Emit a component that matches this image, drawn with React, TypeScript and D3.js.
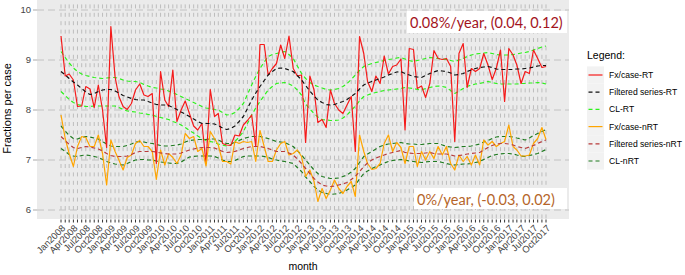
import React from "react";
import * as d3 from "d3";

const months: Date[] = d3.timeMonth.range(new Date(2008, 0, 1), new Date(2017, 10, 1));

const tickLabels = [
  "Jan2008","Apr2008","Jul2008","Oct2008","Jan2009","Apr2009","Jul2009","Oct2009",
  "Jan2010","Apr2010","Jul2010","Oct2010","Jan2011","Apr2011","Jul2011","Oct2011",
  "Jan2012","Apr2012","Jul2012","Oct2012","Jan2013","Apr2013","Jul2013","Oct2013",
  "Jan2014","Apr2014","Jul2014","Oct2014","Jan2015","Apr2015","Jul2015","Oct2015",
  "Jan2016","Apr2016","Jul2016","Oct2016","Jan2017","Apr2017","Jul2017","Oct2017",
];
const yTicks = [6, 7, 8, 9, 10];

const fxRT = [
  9.48,8.68,8.72,8.60,8.07,8.08,8.47,8.42,8.05,8.50,8.00,7.25,9.67,8.66,8.27,8.07,8.01,8.13,8.40,8.52,
  8.30,8.27,8.33,6.93,8.77,8.20,8.07,8.80,7.77,8.00,8.18,7.93,7.68,7.60,7.73,6.93,8.41,7.87,7.93,7.33,
  7.30,7.29,7.50,7.48,7.70,7.79,7.90,7.27,9.31,9.31,8.70,8.83,8.93,9.30,9.03,9.48,8.83,8.68,8.70,7.35,
  8.68,8.40,7.75,7.81,7.65,8.40,8.13,8.00,7.93,8.10,8.27,7.17,9.47,9.13,8.57,8.37,8.68,8.53,9.08,8.72,
  8.87,8.90,9.02,7.60,9.23,9.21,8.43,8.48,8.25,8.53,9.19,9.03,9.01,9.03,8.87,7.37,9.13,9.33,8.45,8.83,
  8.77,8.83,9.13,8.90,8.61,8.83,9.20,8.17,9.23,9.10,8.90,8.53,8.77,8.73,9.20,9.03,8.85,8.87,
];
const filtRT = [
  8.77,8.70,8.63,8.56,8.50,8.43,8.36,8.31,8.33,8.37,8.40,8.41,8.41,8.38,8.34,8.29,8.26,8.23,8.21,8.20,
  8.20,8.17,8.14,8.11,8.10,8.10,8.09,8.05,8.01,7.96,7.92,7.87,7.82,7.77,7.73,7.73,7.73,7.72,7.69,7.64,
  7.61,7.63,7.68,7.77,7.87,8.03,8.20,8.34,8.47,8.59,8.70,8.77,8.83,8.84,8.83,8.80,8.77,8.69,8.60,8.49,
  8.38,8.28,8.20,8.15,8.11,8.10,8.11,8.14,8.17,8.21,8.27,8.33,8.42,8.50,8.54,8.57,8.60,8.63,8.66,8.70,
  8.73,8.76,8.77,8.73,8.70,8.67,8.66,8.65,8.69,8.73,8.76,8.79,8.78,8.77,8.74,8.70,8.71,8.73,8.77,8.80,
  8.83,8.85,8.86,8.87,8.85,8.82,8.81,8.81,8.81,8.81,8.82,8.82,8.83,8.84,8.86,8.88,8.89,8.89,
];
const clRTUpper = [
  9.17,9.05,8.94,8.84,8.77,8.72,8.69,8.67,8.65,8.64,8.63,8.64,8.65,8.65,8.63,8.60,8.58,8.57,8.57,8.55,
  8.51,8.48,8.45,8.44,8.42,8.41,8.38,8.35,8.31,8.27,8.23,8.19,8.15,8.11,8.07,8.04,8.03,8.01,8.00,7.95,
  7.90,7.91,7.95,8.03,8.13,8.31,8.50,8.67,8.83,8.96,9.07,9.11,9.13,9.15,9.17,9.11,9.03,8.88,8.73,8.63,
  8.55,8.50,8.47,8.44,8.41,8.40,8.41,8.43,8.47,8.53,8.61,8.70,8.79,8.87,8.90,8.93,8.95,8.97,8.99,9.01,
  9.02,9.04,9.05,9.02,8.99,8.97,8.99,9.01,9.03,9.05,9.04,9.03,9.02,9.01,8.99,8.97,9.00,9.03,9.07,9.10,
  9.12,9.13,9.14,9.15,9.13,9.11,9.10,9.10,9.10,9.11,9.12,9.14,9.15,9.17,9.20,9.23,9.26,9.28,
];
const clRTLower = [
  8.37,8.29,8.21,8.15,8.11,8.09,8.07,8.07,8.08,8.08,8.08,8.08,8.08,8.08,8.05,8.01,7.98,7.97,7.96,7.94,
  7.93,7.91,7.90,7.87,7.85,7.83,7.81,7.77,7.74,7.70,7.65,7.59,7.54,7.48,7.43,7.39,7.37,7.35,7.32,7.30,
  7.28,7.31,7.37,7.46,7.57,7.73,7.90,8.04,8.17,8.29,8.40,8.47,8.53,8.54,8.55,8.52,8.48,8.40,8.30,8.12,
  8.02,7.93,7.86,7.81,7.80,7.79,7.79,7.80,7.84,7.90,7.99,8.08,8.18,8.27,8.30,8.33,8.35,8.37,8.39,8.40,
  8.41,8.42,8.43,8.45,8.44,8.43,8.41,8.40,8.43,8.45,8.47,8.48,8.47,8.45,8.39,8.33,8.38,8.43,8.47,8.50,
  8.52,8.53,8.55,8.57,8.55,8.53,8.52,8.52,8.52,8.52,8.52,8.53,8.53,8.54,8.54,8.55,8.54,8.52,
];
const fxNRT = [
  7.90,7.43,7.13,6.87,7.27,7.47,7.45,7.27,7.27,7.50,7.13,6.50,7.40,7.17,7.00,6.80,7.05,7.10,7.33,7.39,
  7.27,7.27,7.17,6.61,7.20,6.90,7.13,7.05,6.93,7.10,7.53,7.43,7.47,7.17,7.23,6.88,7.57,7.43,7.30,6.97,
  6.97,6.92,7.37,7.33,7.37,7.35,7.37,6.97,7.59,7.27,6.97,6.97,7.20,7.33,7.37,7.10,7.13,7.20,7.07,6.67,
  6.80,6.57,6.17,6.43,6.23,6.40,6.60,6.43,6.33,6.47,6.57,6.27,7.50,7.17,6.93,6.81,6.83,6.93,7.33,7.50,
  7.17,7.35,7.25,6.93,7.27,7.27,6.87,7.17,7.00,7.17,7.03,7.27,7.10,7.27,6.93,6.80,7.10,6.97,7.07,6.90,
  7.10,6.90,7.40,7.30,7.37,7.27,7.33,7.37,7.70,7.27,7.20,7.08,7.08,7.10,7.33,7.43,7.65,7.41,
];
const filtNRT = [
  7.47,7.39,7.31,7.25,7.23,7.25,7.27,7.26,7.24,7.22,7.18,7.13,7.09,7.07,7.07,7.07,7.08,7.11,7.15,7.17,
  7.17,7.17,7.17,7.16,7.14,7.13,7.12,7.12,7.12,7.14,7.17,7.20,7.22,7.24,7.25,7.25,7.25,7.24,7.21,7.17,
  7.15,7.16,7.17,7.20,7.23,7.25,7.27,7.27,7.27,7.25,7.23,7.20,7.17,7.17,7.17,7.14,7.10,7.02,6.93,6.83,
  6.73,6.63,6.56,6.50,6.48,6.47,6.48,6.50,6.52,6.55,6.61,6.67,6.77,6.87,6.94,7.00,7.04,7.07,7.10,7.13,
  7.15,7.17,7.19,7.15,7.14,7.13,7.13,7.13,7.14,7.15,7.13,7.12,7.12,7.12,7.10,7.08,7.09,7.10,7.12,7.13,
  7.14,7.15,7.20,7.25,7.29,7.32,7.33,7.33,7.32,7.30,7.27,7.25,7.23,7.26,7.29,7.33,7.37,7.40,
];
const clNRTUpper = [
  7.68,7.58,7.49,7.43,7.42,7.45,7.47,7.46,7.44,7.42,7.37,7.32,7.28,7.27,7.27,7.27,7.29,7.32,7.36,7.37,
  7.36,7.34,7.33,7.31,7.29,7.28,7.28,7.29,7.30,7.32,7.36,7.39,7.40,7.41,7.41,7.41,7.42,7.42,7.40,7.36,
  7.33,7.33,7.35,7.39,7.43,7.45,7.47,7.47,7.47,7.45,7.43,7.40,7.37,7.36,7.35,7.31,7.27,7.19,7.10,7.00,
  6.90,6.80,6.73,6.67,6.65,6.63,6.63,6.64,6.67,6.70,6.76,6.83,6.95,7.07,7.12,7.17,7.22,7.27,7.30,7.32,
  7.33,7.34,7.35,7.33,7.32,7.32,7.31,7.31,7.32,7.33,7.33,7.33,7.30,7.27,7.26,7.25,7.26,7.27,7.27,7.28,
  7.30,7.32,7.36,7.39,7.43,7.46,7.47,7.47,7.47,7.46,7.44,7.42,7.40,7.44,7.49,7.53,7.57,7.61,
];
const clNRTLower = [
  7.23,7.17,7.11,7.08,7.07,7.09,7.10,7.09,7.07,7.05,7.01,6.97,6.94,6.92,6.91,6.90,6.93,6.97,7.00,7.01,
  7.01,7.00,7.00,6.98,6.96,6.95,6.94,6.93,6.93,6.96,7.01,7.06,7.07,7.08,7.08,7.08,7.08,7.07,7.04,7.00,
  6.97,6.97,6.99,7.03,7.07,7.08,7.08,7.08,7.08,7.07,7.05,7.02,7.00,6.98,6.97,6.95,6.93,6.85,6.77,6.66,
  6.57,6.47,6.40,6.35,6.33,6.31,6.32,6.33,6.36,6.40,6.45,6.50,6.62,6.73,6.78,6.83,6.87,6.90,6.94,6.97,
  6.99,7.00,7.01,7.00,6.98,6.97,6.96,6.95,6.96,6.97,6.97,6.97,6.95,6.93,6.91,6.90,6.91,6.92,6.92,6.93,
  6.95,6.97,7.01,7.05,7.09,7.11,7.12,7.13,7.13,7.12,7.10,7.08,7.07,7.09,7.11,7.13,7.17,7.21,
];

const legendItems = [
  "Fx/case-RT", "Filtered series-RT", "CL-RT",
  "Fx/case-nRT", "Filtered series-nRT", "CL-nRT",
];
const annotRT = "0.08%/year, (0.04, 0.12)";
const annotNRT = "0%/year, (-0.03, 0.02)";

const FONT = "'Liberation Sans', Arial, sans-serif";
const ANNOT_FONT = "Lato, 'Open Sans', sans-serif";

const COLORS = {
  fxRT: "#f51a1a",
  filtRT: "#111111",
  clRT: "#2cf21a",
  fxNRT: "#ffa500",
  filtNRT: "#b83a3a",
  clNRT: "#1f7a1f",
};

export default function App() {
  const W = 685, H = 275;
  const panel = { left: 37, right: 569, top: 0, bottom: 219 };
  const x = d3.scaleTime().domain([months[0], months[months.length - 1]]).range([61, 546]);
  const y = d3.scaleLinear().domain([5.82, 10.2]).range([panel.bottom, panel.top]);

  const line = d3.line<number>().x((_, i) => x(months[i])).y((d) => y(d));

  const series: { data: number[]; color: string; dash?: string; w: number }[] = [
    { data: clRTUpper, color: COLORS.clRT, dash: "4,3", w: 1.2 },
    { data: clRTLower, color: COLORS.clRT, dash: "4,3", w: 1.2 },
    { data: clNRTUpper, color: COLORS.clNRT, dash: "4,3", w: 1.2 },
    { data: clNRTLower, color: COLORS.clNRT, dash: "4,3", w: 1.2 },
    { data: fxRT, color: COLORS.fxRT, w: 1.2 },
    { data: fxNRT, color: COLORS.fxNRT, w: 1.2 },
    { data: filtRT, color: COLORS.filtRT, dash: "4,3", w: 1.2 },
    { data: filtNRT, color: COLORS.filtNRT, dash: "4,3", w: 1.2 },
  ];

  const legendStyles = [
    { color: COLORS.fxRT },
    { color: COLORS.filtRT, dash: "4,3" },
    { color: COLORS.clRT, dash: "4,3" },
    { color: COLORS.fxNRT },
    { color: COLORS.filtNRT, dash: "4,3" },
    { color: COLORS.clNRT, dash: "4,3" },
  ];

  const quarterMonths = months.filter((_, i) => i % 3 === 0);

  return (
    <svg width={W} height={H} style={{ position: "absolute", left: 0, top: 0, background: "#fff" }}>
      <rect x={panel.left} y={panel.top} width={panel.right - panel.left} height={panel.bottom - panel.top} fill="#ebebeb" />
      {months.map((m, i) => (
        <line key={"vg" + i} x1={x(m)} x2={x(m)} y1={panel.top} y2={panel.bottom}
          stroke="#bdbdbd" strokeWidth={1} strokeDasharray="4,4.4" strokeDashoffset={4} />
      ))}
      {yTicks.map((t) => (
        <line key={"hg" + t} x1={panel.left} x2={panel.right} y1={y(t)} y2={y(t)}
          stroke="#c2c2c2" strokeWidth={1} strokeDasharray="7,4" />
      ))}
      {yTicks.map((t) => (
        <g key={"yt" + t}>
          <line x1={33} x2={panel.left} y1={y(t)} y2={y(t)} stroke="#aaaaaa" strokeWidth={1} />
          <text x={31} y={y(t)} dy="0.35em" textAnchor="end" fontFamily={FONT} fontSize={9.5} fill="#444">{t}</text>
        </g>
      ))}
      {months.map((m, i) => (
        <line key={"xt" + i} x1={x(m)} x2={x(m)} y1={panel.bottom + 0.5} y2={panel.bottom + 3.5} stroke="#333" strokeWidth={1} />
      ))}
      {quarterMonths.map((m, i) => (
        <text key={"xl" + i} transform={`translate(${x(m) + 2.5},${panel.bottom + 7.5}) rotate(-45)`}
          textAnchor="end" dy="0.35em" fontFamily={FONT} fontSize={9.4} fill="#444">{tickLabels[i]}</text>
      ))}
      {series.map((s, i) => (
        <path key={"s" + i} d={line(s.data) || ""} fill="none" stroke={s.color} strokeWidth={s.w}
          strokeDasharray={s.dash} strokeLinejoin="round" />
      ))}
      <rect x={407} y={11} width={160} height={22} fill="#fff" />
      <text x={410} y={28} fontFamily={ANNOT_FONT} fontSize={14.5} fill="#a3141d">{annotRT}</text>
      <rect x={414} y={188} width={153} height={21} fill="#fff" />
      <text x={417} y={205} fontFamily={ANNOT_FONT} fontSize={14.5} fill="#b5652a">{annotNRT}</text>
      <text transform="translate(10.5,108.5) rotate(-90)" textAnchor="middle" fontFamily={FONT} fontSize={11} fill="#000">Fractions per case</text>
      <text x={303} y={270} textAnchor="middle" fontFamily={FONT} fontSize={10.5} fill="#000">month</text>
      <text x={587} y={59} fontFamily={FONT} fontSize={10.5} fill="#000">Legend:</text>
      {legendItems.map((lab, i) => {
        const cy = 75 + i * 17.2;
        const st = legendStyles[i];
        return (
          <g key={"lg" + i}>
            <rect x={587} y={cy - 8.6} width={17} height={17.2} fill="#f2f2f2" />
            <line x1={588.5} x2={602.5} y1={cy} y2={cy} stroke={st.color} strokeWidth={1.2} strokeDasharray={st.dash} />
            <text x={609} y={cy} dy="0.35em" fontFamily={FONT} fontSize={8.6} fill="#000">{lab}</text>
          </g>
        );
      })}
    </svg>
  );
}
